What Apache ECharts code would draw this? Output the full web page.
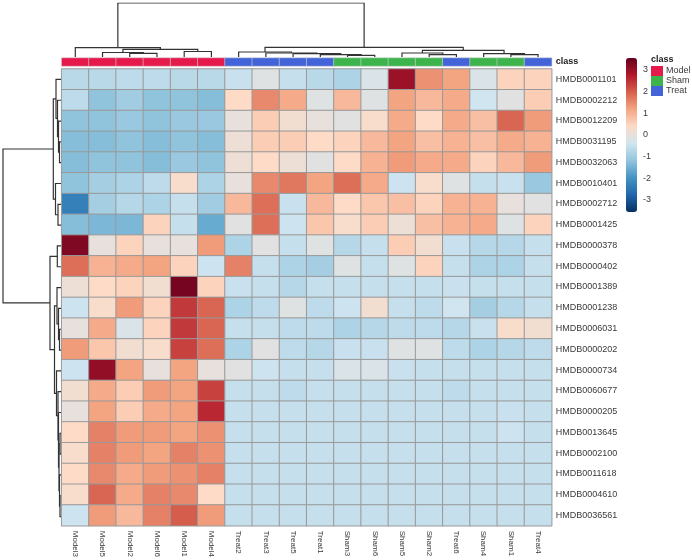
<!DOCTYPE html>
<html>
<head>
<meta charset="utf-8">
<script src="https://cdn.jsdelivr.net/npm/echarts@6/dist/echarts.min.js"></script>
<style>
  html, body { margin: 0; padding: 0; background: #fff; }
  #chart { width: 692px; height: 560px; }
</style>
</head>
<body>
<div id="chart"></div>
<script>
// samples in dendrogram order
const colLabels = ['Model3', 'Model5', 'Model2', 'Model6', 'Model1', 'Model4',
  'Treat2', 'Treat3', 'Treat5', 'Treat1', 'Sham3', 'Sham6', 'Sham5', 'Sham2',
  'Treat6', 'Sham4', 'Sham1', 'Treat4'];
const classNames = ['Model', 'Sham', 'Treat'];
const colClass = ['Model', 'Model', 'Model', 'Model', 'Model', 'Model',
  'Treat', 'Treat', 'Treat', 'Treat', 'Sham', 'Sham', 'Sham', 'Sham',
  'Treat', 'Sham', 'Sham', 'Treat'];
const rowLabels = ['HMDB0001101', 'HMDB0002212', 'HMDB0012209', 'HMDB0031195',
  'HMDB0032063', 'HMDB0010401', 'HMDB0002712', 'HMDB0001425', 'HMDB0000378',
  'HMDB0000402', 'HMDB0001389', 'HMDB0001238', 'HMDB0006031', 'HMDB0000202',
  'HMDB0000734', 'HMDB0060677', 'HMDB0000205', 'HMDB0013645', 'HMDB0002100',
  'HMDB0011618', 'HMDB0004610', 'HMDB0036561'];

// scaled intensities, one row per metabolite
const values = [
  [-0.7, -0.7, -0.65, -0.65, -0.7, -0.7, -0.5, -0.15, -0.55, -0.7, -0.85, -0.25, 3.0, 1.4, 1.2, -0.25, 0.5, 0.5],
  [-0.65, -1.2, -1.0, -1.2, -1.2, -1.3, 0.4, 1.5, 1.1, -0.15, 0.9, -0.15, 1.2, 0.9, 1.1, -0.4, -0.1, 0.6],
  [-1.2, -1.2, -1.1, -1.2, -1.1, -1.1, 0.0, 0.6, 0.2, 0.0, -0.1, 0.3, 1.1, 0.4, 1.1, 0.8, 1.9, 1.3],
  [-1.3, -1.3, -1.2, -1.3, -1.2, -1.3, 0.1, 0.6, 0.6, 0.4, 0.5, 0.9, 1.2, 0.8, 1.0, 0.8, 1.1, 1.0],
  [-1.3, -1.2, -1.2, -1.3, -1.1, -1.2, 0.1, 0.4, 0.1, -0.1, 0.4, 1.0, 1.3, 1.1, 1.1, 0.5, 0.9, 1.3],
  [-1.2, -0.95, -0.85, -0.65, 0.3, -0.85, 0.0, 1.5, 1.7, 1.2, 1.8, 1.1, -0.45, 0.3, -0.15, -0.55, -0.5, -1.1],
  [-2.3, -0.95, -0.75, -0.85, -0.55, -1.0, 0.9, 1.8, -0.5, 0.9, 0.4, 0.7, 0.8, 0.5, 1.0, 1.0, 0.0, -0.1],
  [-1.3, -1.4, -1.4, 0.5, -0.55, -1.6, -0.1, 1.8, -0.45, 0.7, 0.3, 0.6, 0.1, 0.8, 1.0, 1.1, -0.15, 0.5],
  [3.3, 0.0, 0.5, 0.0, 0.0, 1.3, -0.85, -0.1, -0.55, -0.15, -0.75, -0.55, 0.6, 0.2, -0.5, -0.75, -0.75, -0.55],
  [1.8, 1.0, 1.1, 1.2, 0.5, -0.45, 1.6, -0.55, -0.85, -0.95, -0.15, -0.55, -0.15, 0.5, -0.55, -0.85, -0.85, -0.55],
  [0.1, 0.4, 0.5, 0.2, 3.4, 0.5, -0.5, -0.55, -0.75, -0.55, -0.55, -0.55, -0.55, -0.55, -0.5, -0.55, -0.55, -0.55],
  [-0.45, 0.3, 1.3, 0.5, 2.4, 1.9, -0.85, -0.65, -0.15, -0.65, -0.45, 0.2, -0.55, -0.65, -0.4, -0.95, -0.75, -0.55],
  [0.0, 1.1, -0.25, 0.5, 2.4, 1.9, -0.55, -0.55, -0.65, -0.65, -0.85, -0.75, -0.65, -0.65, -0.75, -0.5, 0.3, 0.2],
  [1.3, 0.7, 0.2, 0.3, 2.3, 1.8, -0.85, -0.1, -0.65, -0.75, -0.5, -0.5, -0.15, -0.15, -0.65, -0.85, -0.75, -0.65],
  [-0.45, 3.1, 1.2, 0.0, 1.2, 0.0, -0.1, -0.45, -0.55, -0.55, -0.25, -0.25, -0.5, -0.55, -0.55, -0.55, -0.55, -0.55],
  [0.2, 1.1, 0.6, 1.3, 1.2, 2.3, -0.55, -0.55, -0.65, -0.55, -0.55, -0.55, -0.55, -0.55, -0.65, -0.55, -0.55, -0.55],
  [0.0, 1.2, 0.6, 1.1, 1.2, 2.6, -0.55, -0.55, -0.55, -0.55, -0.55, -0.55, -0.55, -0.55, -0.55, -0.55, -0.5, -0.55],
  [0.4, 1.6, 1.3, 1.3, 1.2, 1.4, -0.55, -0.55, -0.55, -0.55, -0.55, -0.55, -0.55, -0.55, -0.55, -0.55, -0.45, -0.55],
  [0.3, 1.6, 1.3, 1.2, 1.6, 1.4, -0.55, -0.55, -0.55, -0.55, -0.55, -0.55, -0.55, -0.55, -0.55, -0.55, -0.55, -0.55],
  [0.4, 1.5, 1.1, 1.3, 1.4, 1.6, -0.55, -0.55, -0.55, -0.55, -0.55, -0.55, -0.55, -0.55, -0.55, -0.55, -0.55, -0.55],
  [0.3, 1.9, 1.1, 1.6, 1.5, 0.4, -0.55, -0.55, -0.55, -0.55, -0.55, -0.55, -0.55, -0.55, -0.55, -0.55, -0.55, -0.55],
  [-0.45, 1.3, 0.9, 1.6, 2.0, 1.3, -0.55, -0.55, -0.55, -0.55, -0.55, -0.55, -0.55, -0.55, -0.55, -0.55, -0.55, -0.55]
];

// hclust style merges: negative = leaf (1-based), positive = earlier merge, then height
const colMerges = [
  [-3, -4, 3.7], [-2, 1, 4.5], [-5, -6, 5.5], [2, 3, 7.7], [-1, 4, 9.3],
  [-11, -12, 1.7], [-10, 6, 2.3], [-9, 7, 3.3], [-8, 8, 4.0], [-7, 9, 5.0],
  [-14, -15, 2.3], [-13, 11, 4.0], [-17, -18, 2.3], [-16, 13, 3.3], [12, 14, 6.7],
  [10, 15, 9.6], [5, 16, 54]
];
const rowMerges = [
  [-4, -5, 1.5], [-3, 1, 2.5], [-2, 2, 3.5], [-1, 3, 5.0],
  [-7, -8, 3.0], [-6, 5, 5.5], [4, 6, 7.7],
  [-9, -10, 3.7], [-13, -14, 1.5], [-12, 9, 2.5], [-11, 10, 4.0],
  [-21, -22, 1.0], [-20, 12, 1.5], [-18, -19, 1.0], [14, 13, 2.0], [-17, 15, 2.5],
  [-16, 16, 3.0], [-15, 17, 4.5], [11, 18, 6.5], [8, 19, 11], [7, 20, 58]
];

const scaleMin = -3.55;
const scaleMax = 3.55;
const heatColors = ['#053061', '#2166AC', '#4393C3', '#92C5DE', '#D1E5F0',
  '#FDDBC7', '#F4A582', '#D6604D', '#B2182B', '#67001F'];
const classColors = ['#e6194b', '#3cb44b', '#4363d8'];

// turn the merge table into U shaped polylines
const buildTree = (merges) => {
  const pos = [];
  const hgt = [];
  const segs = [];
  const nodeOf = (k) => (k < 0 ? [-k - 1, 0] : [pos[k - 1], hgt[k - 1]]);
  merges.forEach(([a, b, h]) => {
    const [pa, ha] = nodeOf(a);
    const [pb, hb] = nodeOf(b);
    pos.push((pa + pb) / 2);
    hgt.push(h);
    segs.push([[pa, ha], [pa, h], [pb, h], [pb, hb]]);
  });
  return segs;
};

const heatData = [];
values.forEach((row, r) => row.forEach((v, c) => heatData.push([c, r, v])));
const classData = colClass.map((k, c) => [c, 0, classNames.indexOf(k)]);
const colTree = buildTree(colMerges).map(s => ({ coords: s }));
const rowTree = buildTree(rowMerges).map(s => ({ coords: s.map(([p, h]) => [h, p]) }));

const txt = '#3a3a3a';
const font = 'Liberation Sans';
const hidden = { show: false };
const treeLine = { color: '#333', width: 1.2, opacity: 1 };

const chart = echarts.init(document.getElementById('chart'));
chart.setOption({
  animation: false,
  backgroundColor: '#fff',
  textStyle: { fontFamily: font },
  grid: [
    { left: 61.7, top: 69, width: 490, height: 458 },
    { left: 61.7, top: 58, width: 490, height: 8 },
    { left: 61.7, top: 3, width: 490, height: 54 },
    { left: 3, top: 69, width: 58, height: 458 },
    { left: 626, top: 70, width: 11, height: 130 }
  ],
  xAxis: [
    {
      type: 'category', gridIndex: 0, data: colLabels,
      axisLine: hidden, axisTick: hidden, splitLine: hidden,
      axisLabel: { rotate: -90, fontSize: 8, color: txt, margin: 5, interval: 0 }
    },
    { type: 'category', gridIndex: 1, data: colLabels, show: false },
    { type: 'value', gridIndex: 2, min: -0.5, max: 17.5, show: false },
    { type: 'value', gridIndex: 3, min: 0, max: 58, inverse: true, show: false },
    { type: 'value', gridIndex: 4, min: 0, max: 1, show: false }
  ],
  yAxis: [
    {
      type: 'category', gridIndex: 0, data: rowLabels, inverse: true, position: 'right',
      axisLine: hidden, axisTick: hidden, splitLine: hidden,
      axisLabel: { fontSize: 9, color: txt, margin: 4, interval: 0 }
    },
    {
      type: 'category', gridIndex: 1, data: ['class'], position: 'right',
      axisLine: hidden, axisTick: hidden, splitLine: hidden,
      axisLabel: { fontSize: 9, fontWeight: 'bold', color: '#222', margin: 4 }
    },
    { type: 'value', gridIndex: 2, min: 0, max: 54, show: false },
    { type: 'value', gridIndex: 3, min: -0.5, max: 21.5, inverse: true, show: false },
    {
      type: 'value', gridIndex: 4, min: -3, max: 3, interval: 1, position: 'right',
      axisLine: hidden, axisTick: hidden, splitLine: hidden,
      axisLabel: { fontSize: 9, color: txt, margin: 6 }
    }
  ],
  visualMap: [
    {
      type: 'continuous', seriesIndex: 0, min: scaleMin, max: scaleMax,
      inRange: { color: heatColors }, calculable: false,
      left: 626, top: 58, itemWidth: 11, itemHeight: 154, padding: 0
    },
    {
      type: 'piecewise', seriesIndex: 1, inverse: true, align: 'left',
      pieces: classNames.map((n, i) => ({ value: i, label: n, color: classColors[i] })),
      left: 651, top: 66, itemWidth: 12, itemHeight: 10, itemGap: 0, textGap: 3,
      itemSymbol: 'rect', padding: 0, selectedMode: false,
      textStyle: { fontSize: 9, color: txt }
    }
  ],
  graphic: [
    { type: 'text', left: 651, top: 55, style: { text: 'class', fontSize: 9, fontWeight: 'bold', fill: '#222', fontFamily: font } }
  ],
  series: [
    {
      type: 'heatmap', xAxisIndex: 0, yAxisIndex: 0, data: heatData,
      itemStyle: { borderColor: '#999', borderWidth: 1 },
      emphasis: { disabled: true }
    },
    {
      type: 'heatmap', xAxisIndex: 1, yAxisIndex: 1, data: classData,
      itemStyle: { borderColor: '#d4d4d4', borderWidth: 0.6 },
      emphasis: { disabled: true }
    },
    {
      type: 'lines', coordinateSystem: 'cartesian2d', xAxisIndex: 2, yAxisIndex: 2,
      polyline: true, silent: true, data: colTree, lineStyle: treeLine
    },
    {
      type: 'lines', coordinateSystem: 'cartesian2d', xAxisIndex: 3, yAxisIndex: 3,
      polyline: true, silent: true, data: rowTree, lineStyle: treeLine
    },
    { type: 'scatter', xAxisIndex: 4, yAxisIndex: 4, data: [] }
  ]
});
</script>
</body>
</html>
